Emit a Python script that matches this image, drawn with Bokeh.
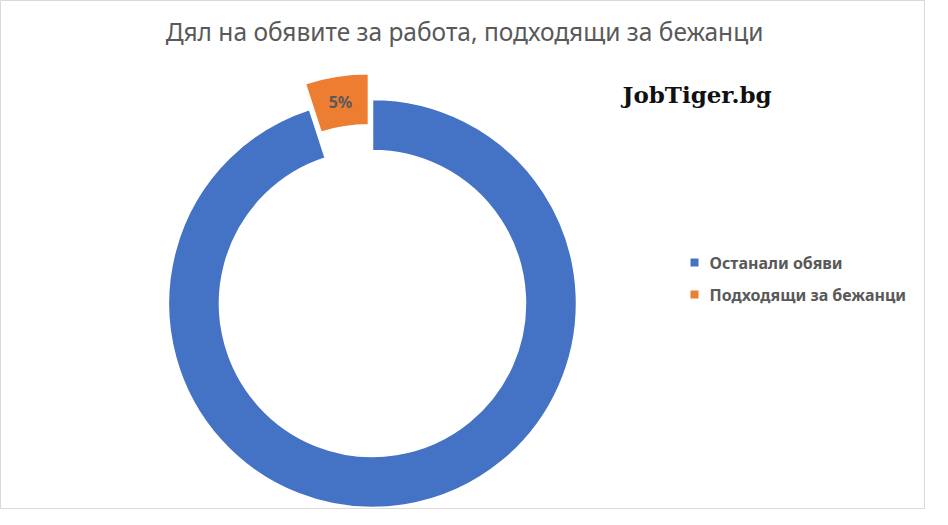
import math
from bokeh.plotting import figure
from bokeh.models import Range1d, ColumnDataSource
from bokeh.core.properties import value
from bokeh.embed import file_html
from bokeh.resources import INLINE

# ---- data ----
title = "Дял на обявите за работа, подходящи за бежанци"
categories = ["Останали обяви", "Подходящи за бежанци"]
shares = [95, 5]
colors = ["#4472C4", "#ED7D31"]
explode = [0, 26]
show_label = [False, True]
brand = "JobTiger.bg"

W, H = 925, 509
p = figure(width=W, height=H, x_range=Range1d(0, W), y_range=Range1d(0, H),
           output_backend="svg", toolbar_location=None, min_border=0,
           x_axis_location=None, y_axis_location=None)
p.grid.visible = False
p.outline_line_color = "#d9d9d9"
p.outline_line_width = 1
p.background_fill_color = "white"
p.border_fill_color = "white"

cx, cy = 372, 206
r_in, r_out = 153, 204
total = float(sum(shares))

xs, ys, a0s, a1s, lx, ly, lt = [], [], [], [], [], [], []
cum = 0.0
for cat, s, ex, sl in zip(categories, shares, explode, show_label):
    frac = s / total
    a0 = math.pi / 2 - 2 * math.pi * (cum + frac)
    a1 = math.pi / 2 - 2 * math.pi * cum
    mid = (a0 + a1) / 2
    x = cx + ex * math.cos(mid)
    y = cy + ex * math.sin(mid)
    xs.append(x); ys.append(y); a0s.append(a0); a1s.append(a1)
    if sl:
        rm = (r_in + r_out) / 2
        lx.append(x + rm * math.cos(mid)); ly.append(y + rm * math.sin(mid))
        lt.append(f"{frac*100:.0f}%")
    cum += frac

src = ColumnDataSource(dict(x=xs, y=ys, a0=a0s, a1=a1s, color=colors, cat=categories))
p.annular_wedge(x="x", y="y", inner_radius=r_in, outer_radius=r_out,
                start_angle="a0", end_angle="a1", fill_color="color",
                line_color="white", line_width=1.5, source=src)

p.text(x=lx, y=ly, text=lt, text_align="center", text_baseline="middle",
       text_font=value("Noto Sans"), text_font_style="bold",
       text_font_size="16px", text_color="#595959")

# title
p.text(x=[464], y=[478], text=[title], text_align="center", text_baseline="alphabetic",
       text_font=value("Noto Sans"), text_font_size="24.5px", text_color="#595959")

# brand
p.text(x=[622], y=[415], text=[brand], text_align="left", text_baseline="alphabetic",
       text_font=value("DejaVu Serif"), text_font_style="bold",
       text_font_size="23px", text_color="#111111")

# legend
leg_y = [247, 215]
p.scatter(x=[694] * len(categories), y=leg_y, marker="square", size=8,
          fill_color=colors, line_color=None)
p.text(x=[709] * len(categories), y=leg_y, text=categories, text_align="left",
       text_baseline="middle", text_font=value("Noto Sans"), text_font_style="bold",
       text_font_size="16px", text_color="#595959")

open("out.html", "w").write(file_html(p, INLINE))
